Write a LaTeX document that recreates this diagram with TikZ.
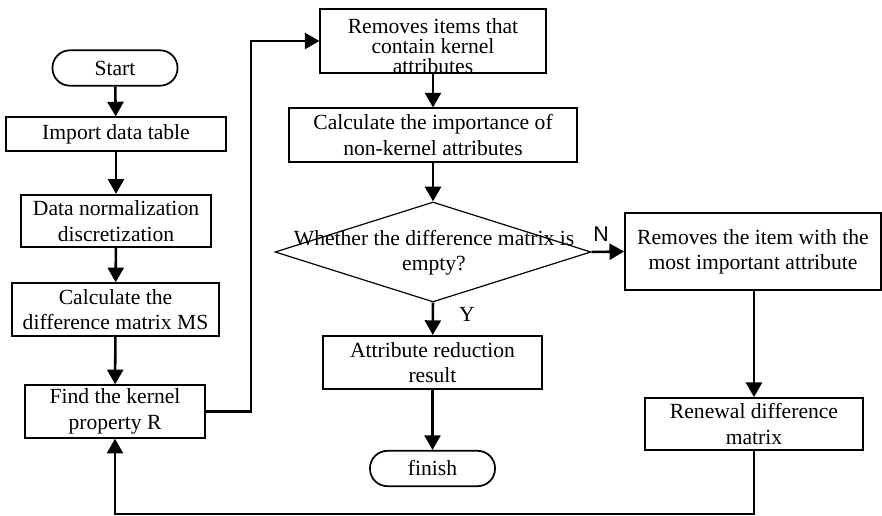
\documentclass[tikz,border=0pt]{standalone}
\usepackage{fontspec}
\setmainfont{Liberation Serif}
\setsansfont{Liberation Sans}
\usetikzlibrary{shapes.geometric,arrows.meta}

\tikzset{
  proc/.style={draw, line width=1.3pt, align=center, inner sep=0pt},
  term/.style={draw, line width=1.3pt, rounded corners=13pt, inner sep=0pt,
    minimum width=93.75pt, minimum height=26.5pt},
  decide/.style={draw, diamond, line width=0.9pt, inner sep=0pt,
    minimum width=237pt, minimum height=75pt},
  arr/.style={line width=1.9pt, -{Triangle[length=11pt,width=12pt]}},
}

\begin{document}
\begin{tikzpicture}[x=0.75pt, y=-0.75pt, font=\fontsize{16.2}{19}\selectfont]
  \useasboundingbox (0,0) rectangle (882,516);

  % left column
  \node[term] (start) at (115,68) {Start};
  \node[proc, minimum width=165pt, minimum height=25pt] (import) at (116,134) {Import data table};
  \node[proc, minimum width=142pt, minimum height=39.5pt] (norm) at (116,221) {Data normalization\\discretization};
  \node[proc, minimum width=155pt, minimum height=39.5pt] (calc) at (115.5,309.5) {Calculate the\\difference matrix MS};
  \node[proc, minimum width=135pt, minimum height=39.5pt] (find) at (115,411.5) {Find the kernel\\property R};

  % middle column
  \node[proc, minimum width=169pt, minimum height=48pt] (rm) at (433,41) {};
  \node[align=center, inner sep=0pt, font=\fontsize{16.2}{15}\selectfont] (rmtext) at (433,46) {Removes items that\\contain kernel\\attributes};
  \node[proc, minimum width=216pt, minimum height=40pt] (imp) at (433,135) {Calculate the importance of\\non-kernel attributes};
  \node[decide] (dec) at (433,252) {};
  \node[align=center, inner sep=0pt] (dectext) at (434,253) {Whether the difference matrix is\\empty?};
  \node[proc, minimum width=164pt, minimum height=40pt] (result) at (432.5,362.5) {Attribute reduction\\result};
  \node[term] (finish) at (432.5,468.5) {finish};

  % right column
  \node[proc, minimum width=192pt, minimum height=57.5pt] (del) at (753,251.5) {Removes the item with the\\most important attribute};
  \node[proc, minimum width=163.5pt, minimum height=39pt] (renew) at (754,424) {Renewal difference\\matrix};

  % labels
  \node[font=\fontsize{16}{19}\sffamily] (nlab) at (601,234) {N};
  \node (ylab) at (467,314) {Y};

  % connectors
  \coordinate (up) at (251,411.5);
  \coordinate (loop) at (753,514);
  \draw[arr] (start) -- (import);
  \draw[arr] (import) -- (norm);
  \draw[arr] (norm) -- (calc);
  \draw[arr] (calc) -- (find);
  \draw[arr] (find.east) -- (up) |- (rm.west);
  \draw[arr] (rm) -- (imp);
  \draw[arr] (imp) -- (dec.north);
  \draw[arr] (dec.south) -- (result);
  \draw[arr] (result) -- (finish);
  \draw[arr] (dec.east) -- (del.west);
  \draw[arr] (del.south -| renew.north) -- (renew.north);
  \draw[arr] (renew.south) |- (loop) -| (find.south);
\end{tikzpicture}
\end{document}
